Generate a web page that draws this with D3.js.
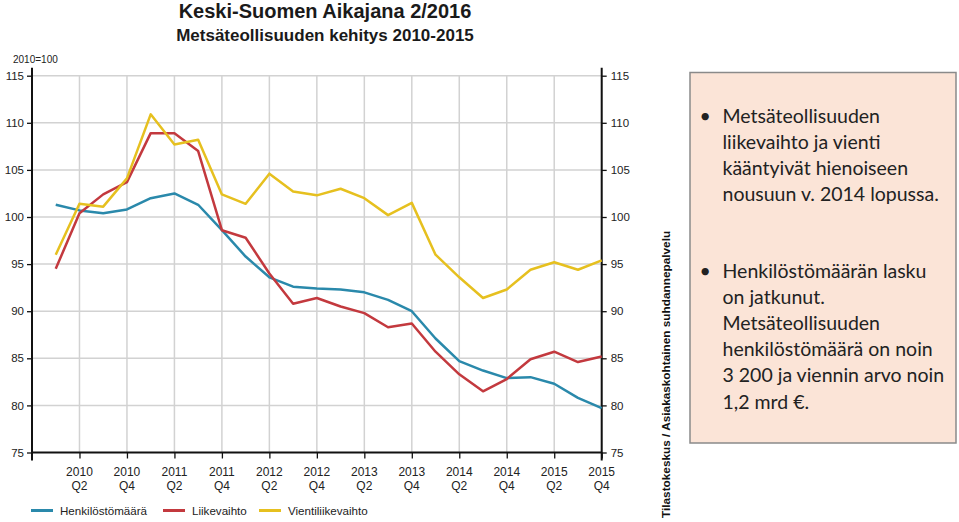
<!DOCTYPE html>
<html><head><meta charset="utf-8">
<script src="https://cdn.jsdelivr.net/npm/d3@7"></script>
<style>body{margin:0;background:#fff}svg{display:block}</style>
</head><body>
<svg id="c" width="959" height="522"></svg>
<script>
const quarters = ["2010Q1","2010Q2","2010Q3","2010Q4","2011Q1","2011Q2","2011Q3","2011Q4","2012Q1","2012Q2","2012Q3","2012Q4","2013Q1","2013Q2","2013Q3","2013Q4","2014Q1","2014Q2","2014Q3","2014Q4","2015Q1","2015Q2","2015Q3","2015Q4"];
const henkilosto = [101.3,100.7,100.4,100.8,102.0,102.5,101.3,98.6,95.8,93.6,92.6,92.4,92.3,92.0,91.2,90.0,87.1,84.7,83.7,82.9,83.0,82.3,80.8,79.7];
const liikevaihto = [94.5,100.4,102.4,103.7,108.9,108.9,107.0,98.6,97.8,94.0,90.8,91.4,90.5,89.8,88.3,88.7,85.7,83.3,81.5,82.8,84.9,85.7,84.6,85.2];
const vienti = [96.0,101.4,101.1,104.1,110.9,107.7,108.2,102.4,101.4,104.6,102.7,102.3,103.0,102.0,100.2,101.5,96.0,93.6,91.4,92.3,94.4,95.2,94.4,95.4];
const seriesNames = ["Henkilöstömäärä","Liikevaihto","Vientiliikevaihto"];
const seriesColors = ["#2a89ab","#c3393e","#e6c01f"];
const yTicks = [75,80,85,90,95,100,105,110,115];
const bullets = [
  ["Metsäteollisuuden","liikevaihto ja vienti","kääntyivät hienoiseen","nousuun v. 2014 lopussa."],
  ["Henkilöstömäärän lasku","on jatkunut.","Metsäteollisuuden","henkilöstömäärä on noin","3 200 ja viennin arvo noin","1,2 mrd €."]
];

const svg = d3.select("#c");
const L = 32, R = 601.7, T = 75.7, B = 452.5;
const x = d3.scaleLinear().domain([-1, quarters.length - 1]).range([L, R]);
const y = d3.scaleLinear().domain([75, 115]).range([B, T]);
const font = "'Liberation Sans', Arial, sans-serif";

// titles
svg.append("text").attr("x",325).attr("y",18).attr("text-anchor","middle")
  .attr("font-family",font).attr("font-weight","bold").attr("font-size",20).attr("fill","#1a1a1a")
  .text("Keski-Suomen Aikajana 2/2016");
svg.append("text").attr("x",325).attr("y",40.5).attr("text-anchor","middle")
  .attr("font-family",font).attr("font-weight","bold").attr("font-size",17).attr("fill","#1a1a1a")
  .text("Metsäteollisuuden kehitys 2010-2015");
svg.append("text").attr("x",13).attr("y",63).attr("font-family",font).attr("font-size",10).attr("fill","#222")
  .text("2010=100");

// grid
const tickIdx = d3.range(1, quarters.length, 2);
svg.append("g").selectAll("line").data(yTicks.slice(1)).join("line")
  .attr("x1",L).attr("x2",R).attr("y1",d=>y(d)).attr("y2",d=>y(d))
  .attr("stroke","#d2d2d2").attr("stroke-width",1.5);
svg.append("g").selectAll("line").data(tickIdx).join("line")
  .attr("x1",d=>x(d)).attr("x2",d=>x(d)).attr("y1",T).attr("y2",B)
  .attr("stroke","#d2d2d2").attr("stroke-width",1.5);

// axes
const leftAxis = d3.axisLeft(y).tickValues(yTicks).tickSize(5).tickPadding(3);
const gl = svg.append("g").attr("transform",`translate(${L},0)`).call(leftAxis);
const rightAxis = d3.axisRight(y).tickValues(yTicks).tickSize(5).tickPadding(4);
const gr = svg.append("g").attr("transform",`translate(${R},0)`).call(rightAxis);
[gl,gr].forEach(g=>{
  g.select(".domain").remove();
  g.selectAll(".tick line").attr("stroke","#111").attr("stroke-width",1.3);
  g.selectAll(".tick text").attr("font-family",font).attr("font-size",11.5).attr("fill","#222");
});
svg.append("line").attr("x1",L).attr("x2",L).attr("y1",T-8).attr("y2",B+8).attr("stroke","#111").attr("stroke-width",2);
svg.append("line").attr("x1",R).attr("x2",R).attr("y1",T-8).attr("y2",B+8).attr("stroke","#111").attr("stroke-width",2);
const bottom = d3.axisBottom(x).tickValues(tickIdx).tickSize(6).tickFormat("");
const gb = svg.append("g").attr("transform",`translate(0,${B})`).call(bottom);
gb.select(".domain").remove();
gb.selectAll(".tick line").attr("stroke","#111").attr("stroke-width",1.3);
svg.append("line").attr("x1",L).attr("x2",R).attr("y1",B).attr("y2",B).attr("stroke","#111").attr("stroke-width",2);
const xl = svg.append("g");
tickIdx.forEach(i=>{
  const q = quarters[i];
  const t = xl.append("text").attr("x",x(i)).attr("text-anchor","middle")
    .attr("font-family",font).attr("font-size",12).attr("fill","#222");
  t.append("tspan").attr("x",x(i)).attr("y",476).text(q.slice(0,4));
  t.append("tspan").attr("x",x(i)).attr("y",489.5).text(q.slice(4));
});

// lines
const data = [henkilosto, liikevaihto, vienti];
const line = d3.line().x((d,i)=>x(i)).y(d=>y(d));
svg.append("g").selectAll("path").data(data).join("path")
  .attr("d",line).attr("fill","none").attr("stroke",(d,i)=>seriesColors[i])
  .attr("stroke-width",2.5).attr("stroke-linejoin","round");

// legend
const legX = [31, 163, 259];
seriesNames.forEach((n,i)=>{
  svg.append("line").attr("x1",legX[i]).attr("x2",legX[i]+22).attr("y1",510.5).attr("y2",510.5)
    .attr("stroke",seriesColors[i]).attr("stroke-width",3);
  svg.append("text").attr("x",legX[i]+29).attr("y",515).attr("font-family",font).attr("font-size",11.6)
    .attr("fill","#222").text(n);
});

// source (vertical)
svg.append("text").attr("transform","translate(669.5,518) rotate(-90)")
  .attr("font-family",font).attr("font-weight","bold").attr("font-size",11.8).attr("fill","#111")
  .text("Tilastokeskus / Asiakaskohtainen suhdannepalvelu");

// text box
svg.append("rect").attr("x",690).attr("y",72.5).attr("width",266).attr("height",370.5)
  .attr("fill","#fbe4d7").attr("stroke","#8a8a8a").attr("stroke-width",1.5);
const boxFont = "Lato, 'Open Sans', sans-serif";
const starts = [123, 278];
bullets.forEach((lines,bi)=>{
  svg.append("text").attr("x",699.5).attr("y",starts[bi]).attr("font-family",boxFont).attr("font-size",19.5)
    .attr("fill","#222").text("•");
  lines.forEach((ln,li)=>{
    svg.append("text").attr("x",722.5).attr("y",starts[bi]+li*26.1).attr("font-family",boxFont)
      .attr("font-size",19.5).attr("fill","#222").text(ln);
  });
});
</script>
</body></html>
